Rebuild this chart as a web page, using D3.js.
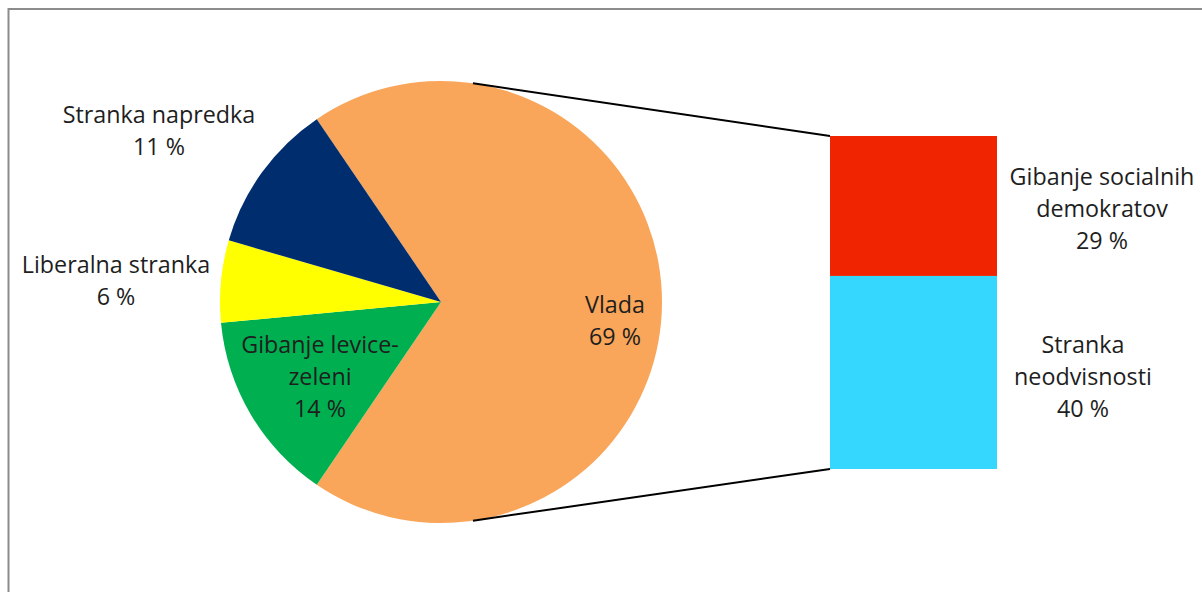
<!DOCTYPE html>
<html>
<head>
<meta charset="utf-8">
<script src="https://cdn.jsdelivr.net/npm/d3@7"></script>
<style>
  html, body { margin: 0; padding: 0; background: #fff; }
  svg { display: block; }
  text { font-family: "Open Sans", Lato, sans-serif; fill: #1e1e1e; }
</style>
</head>
<body>
<svg id="chart" width="1202" height="592"></svg>
<script>
// ---- data ----
const pieLabels = ["Vlada", "Gibanje levice-zeleni", "Liberalna stranka", "Stranka napredka"];
const pieValues = [69, 14, 6, 11];
const barLabels = ["Gibanje socialnih demokratov", "Stranka neodvisnosti"];
const barValues = [29, 40];

// ---- styles / layout ----
const pieColors = ["#F9A65A", "#00B050", "#FFFF00", "#002D6E"];
const barColors = ["#F02400", "#36D7FF"];
const pieLabelLines = [["Vlada", "69 %"], ["Gibanje levice-", "zeleni", "14 %"], ["Liberalna stranka", "6 %"], ["Stranka napredka", "11 %"]];
const pieLabelPos = [[615, 313], [320, 353], [116, 273], [159, 123]];
const barLabelLines = [["Gibanje socialnih", "demokratov", "29 %"], ["Stranka", "neodvisnosti", "40 %"]];
const barLabelPos = [[1102, 185], [1083, 353]];
const lineGap = 32;
const fontSize = 23.3;

const svg = d3.select("#chart");

// frame
svg.append("rect")
  .attr("x", 8.5).attr("y", 9).attr("width", 1250).attr("height", 700)
  .attr("fill", "none").attr("stroke", "#8c8c8c").attr("stroke-width", 2);

const cx = 441, cy = 302, R = 221;
const total = d3.sum(pieValues);
const firstShare = pieValues[0] / total;
const start = Math.PI / 2 - firstShare * Math.PI;

const pie = d3.pie().sort(null).value(d => d)
  .startAngle(start).endAngle(start + 2 * Math.PI);
const arcs = pie(pieValues);
const arc = d3.arc().innerRadius(0).outerRadius(R);

const g = svg.append("g").attr("transform", `translate(${cx},${cy})`);
g.selectAll("path").data(arcs).enter().append("path")
  .attr("d", arc)
  .attr("fill", (d, i) => pieColors[i]);

// bar of pie
const barX0 = 830, barX1 = 997;
const y = d3.scaleLinear().domain([0, d3.sum(barValues)]).range([136, 469]);
const stacks = [];
let acc = 0;
barValues.forEach((v, i) => { stacks.push({ y0: acc, y1: acc + v, i }); acc += v; });
svg.selectAll("rect.bar").data(stacks).enter().append("rect")
  .attr("class", "bar")
  .attr("x", barX0).attr("width", barX1 - barX0)
  .attr("y", d => y(d.y0)).attr("height", d => y(d.y1) - y(d.y0))
  .attr("fill", d => barColors[d.i]);

// connector lines
const connAngle = 0.145; // radians from vertical
const topPt = [cx + R * Math.sin(connAngle), cy - R * Math.cos(connAngle)];
const botPt = [cx + R * Math.sin(Math.PI - connAngle), cy - R * Math.cos(Math.PI - connAngle)];
svg.append("line").attr("x1", topPt[0]).attr("y1", topPt[1])
  .attr("x2", barX0).attr("y2", y(0)).attr("stroke", "#000").attr("stroke-width", 2);
svg.append("line").attr("x1", botPt[0]).attr("y1", botPt[1])
  .attr("x2", barX0).attr("y2", y(d3.sum(barValues))).attr("stroke", "#000").attr("stroke-width", 2);

// labels
function drawLabel(lines, pos) {
  const t = svg.append("text")
    .attr("text-anchor", "middle")
    .attr("font-size", fontSize);
  lines.forEach((ln, k) => {
    t.append("tspan").attr("x", pos[0]).attr("y", pos[1] + k * lineGap).text(ln);
  });
}
pieLabelLines.forEach((l, i) => drawLabel(l, pieLabelPos[i]));
barLabelLines.forEach((l, i) => drawLabel(l, barLabelPos[i]));
</script>
</body>
</html>
